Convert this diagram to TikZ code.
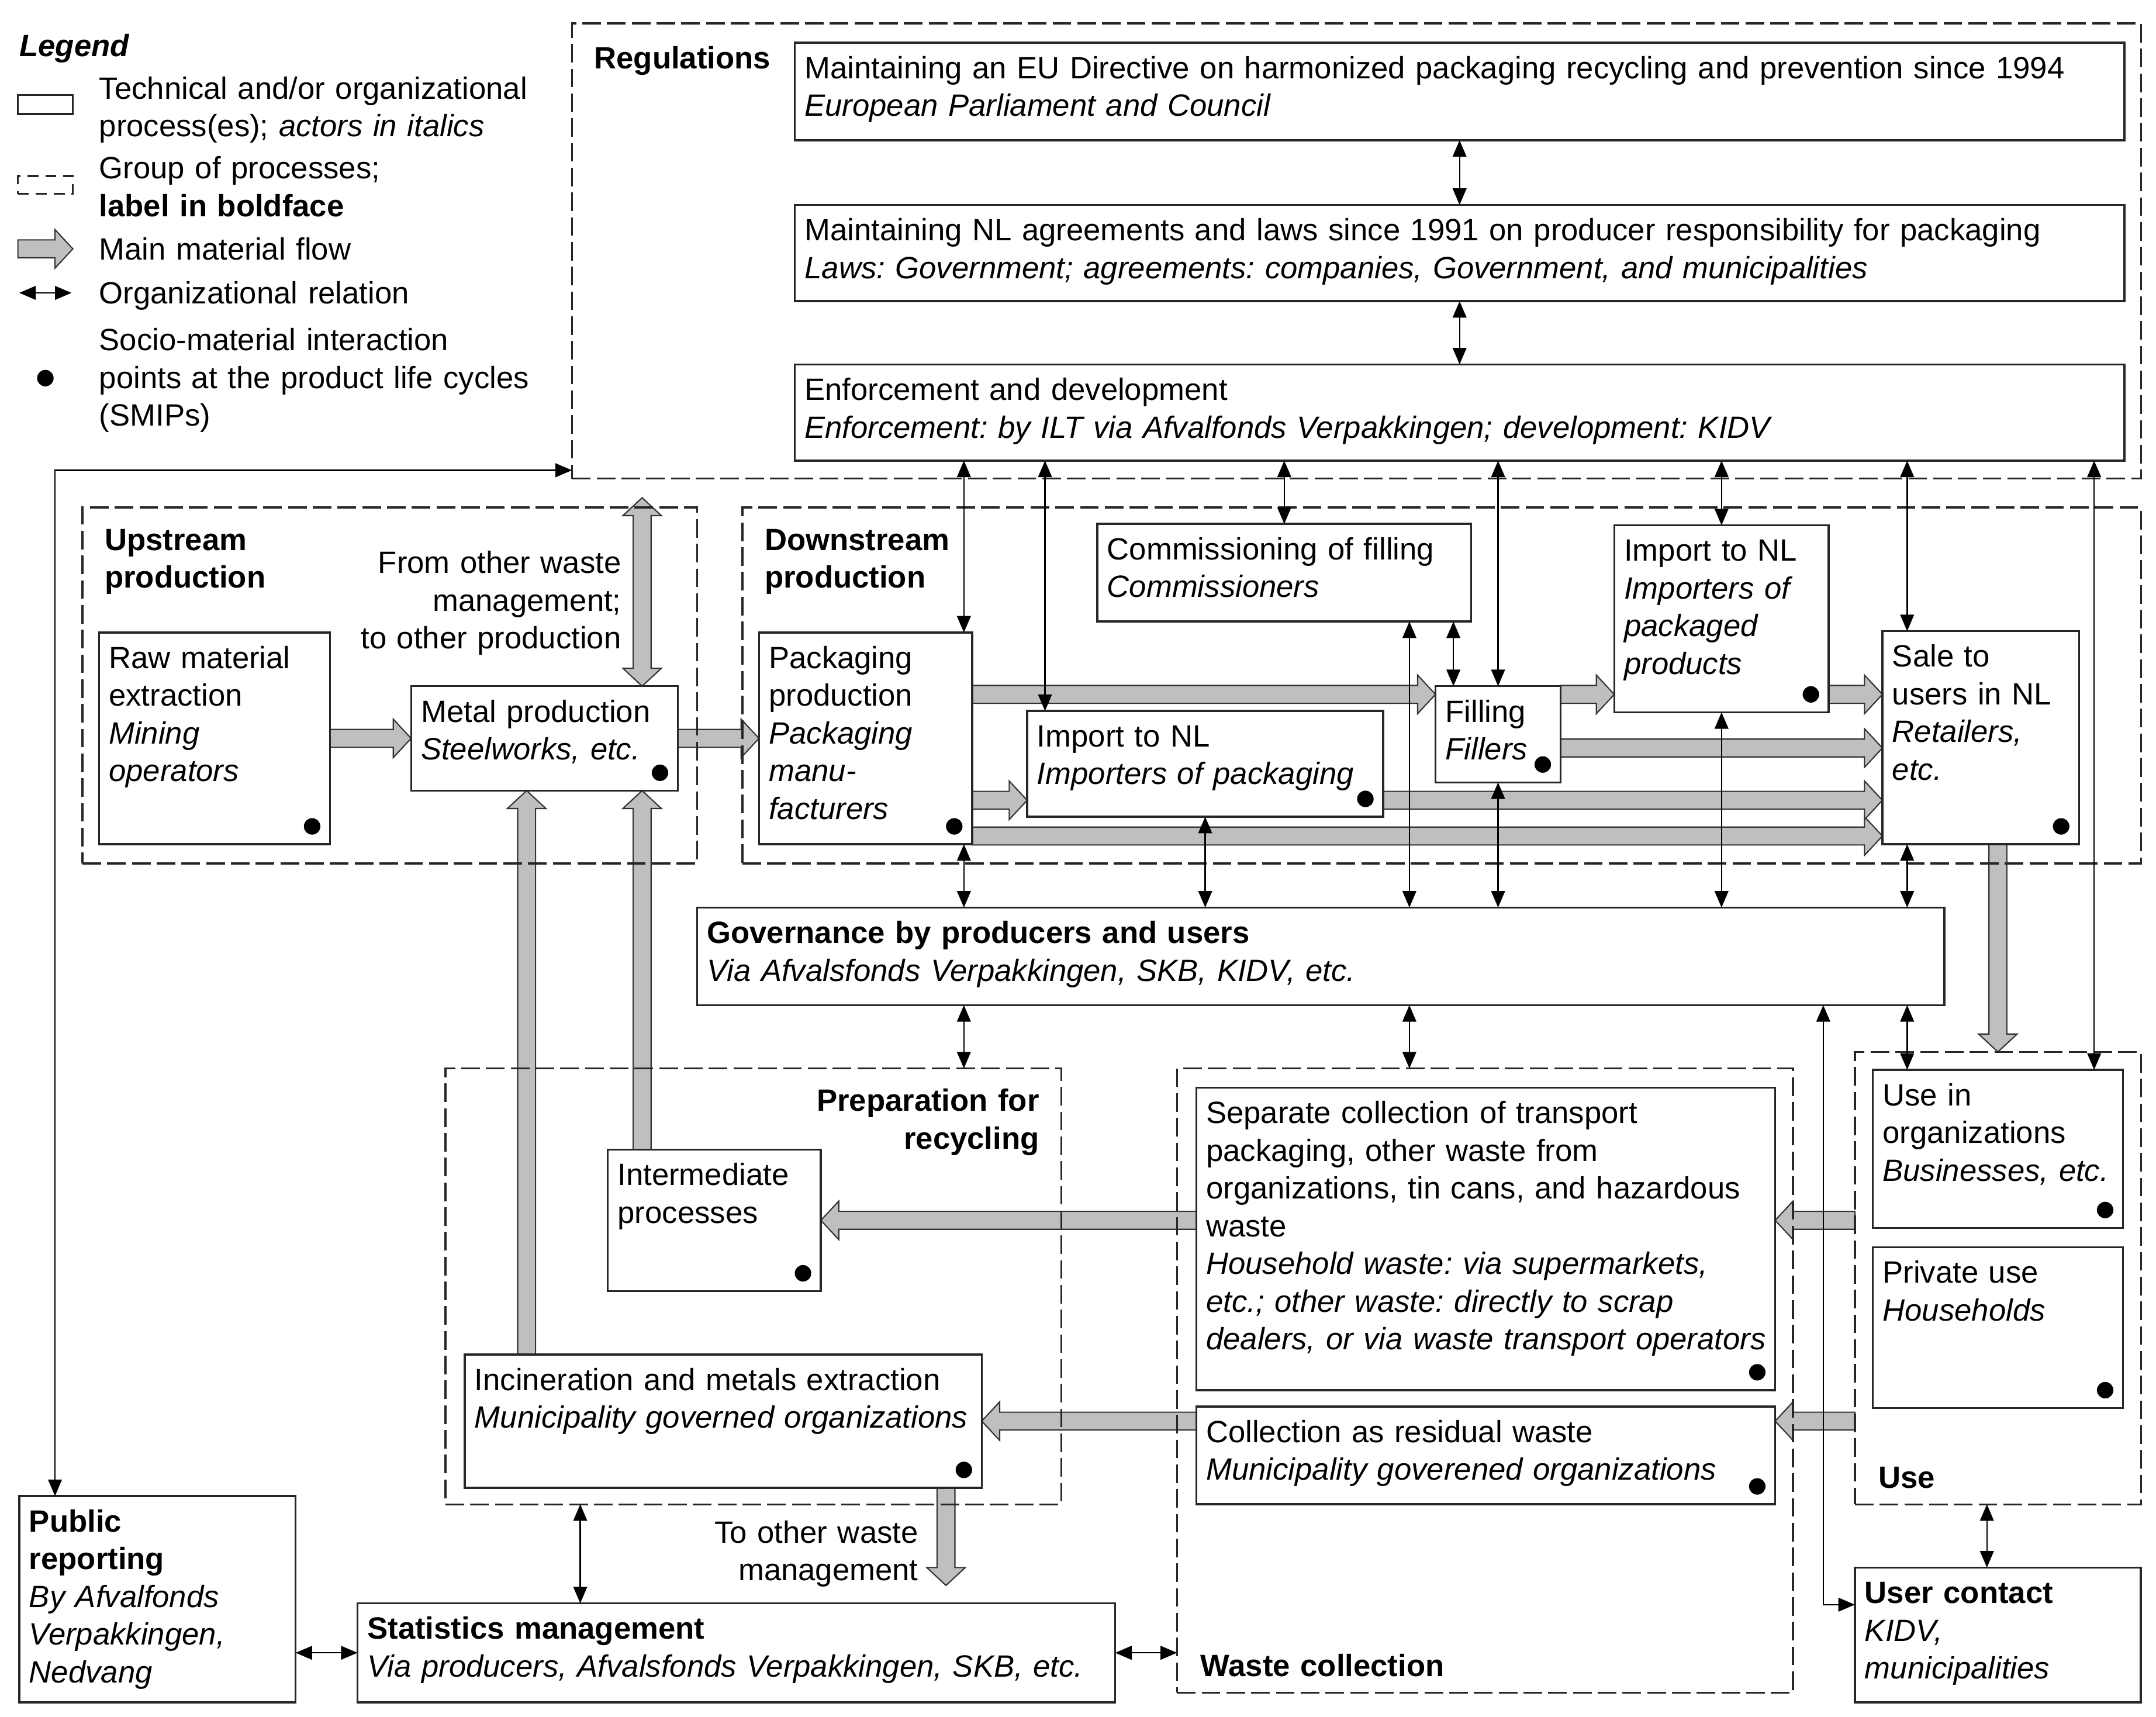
\documentclass[tikz,border=0pt]{standalone}
\usepackage{fontspec}
\setmainfont{Liberation Sans}
\usetikzlibrary{arrows.meta,calc}
\definecolor{flowgray}{gray}{0.75}
\pgfdeclarelayer{flows}
\pgfsetlayers{flows,main}
\frenchspacing
\tikzset{
  proc/.style={draw=black!85, line width=1.5pt, fill=white, anchor=north west, inner sep=0pt, outer sep=0pt},
  grp/.style={draw=black!85, line width=1.4pt, dash pattern=on 13.5pt off 4.5pt, anchor=north west, inner sep=0pt, outer sep=0pt},
  txt/.style={anchor=north west, align=left, text width=980pt, inner xsep=7pt, inner ysep=6.7pt, execute at begin node=\strut},
  txtr/.style={txt, anchor=north east, align=right},
  rel/.style={line width=1pt, <->, >={Triangle[length=12pt,width=10pt]}},
  smip/.style={fill=black},
  flow/.style={draw=black!80, fill=flowgray, line width=0.9pt,
    to path={(\tikztostart) coordinate (fs) (\tikztotarget) coordinate (fe)
      ($(fe)!13pt!(fs)$) coordinate (fb)
      ($(fs)!6.5pt!90:(fe)$) -- ($(fb)!6.5pt!90:(fe)$) -- ($(fb)!14pt!90:(fe)$) -- (fe)
      -- ($(fb)!14pt!-90:(fe)$) -- ($(fb)!6.5pt!-90:(fe)$) -- ($(fs)!6.5pt!-90:(fe)$) -- cycle}},
  flowtwo/.style={draw=black!80, fill=flowgray, line width=0.9pt,
    to path={(\tikztostart) coordinate (fs) (\tikztotarget) coordinate (fe)
      ($(fe)!13pt!(fs)$) coordinate (fb) ($(fs)!13pt!(fe)$) coordinate (fa)
      (fs) -- ($(fa)!14pt!90:(fe)$) -- ($(fa)!6.5pt!90:(fe)$) -- ($(fb)!6.5pt!90:(fe)$) -- ($(fb)!14pt!90:(fe)$) -- (fe)
      -- ($(fb)!14pt!-90:(fe)$) -- ($(fb)!6.5pt!-90:(fe)$) -- ($(fa)!6.5pt!-90:(fe)$) -- ($(fa)!14pt!-90:(fe)$) -- cycle}}
}
\begin{document}
\begin{tikzpicture}[x=1pt, y=-1pt, font=\fontsize{22.4}{27.4}\selectfont, line join=miter]
\useasboundingbox (0,0) rectangle (1568,1248.7);

\node[txt] (leg-t) at (7,15) {\textbf{\textit{Legend}}};
\node[proc, minimum width=40, minimum height=14] (legproc) at (13,69) {};
\node[txt] (legproc-t) at (65,46) {Technical and/or organizational\\process(es); \textit{actors in italics}};
\node[grp, dash pattern=on 8pt off 5pt, minimum width=40, minimum height=13] (leggrp) at (13,128) {};
\node[txt] (leggrp-t) at (65,104) {Group of processes;\\\textbf{label in boldface}};
\coordinate (legflow-a) at (13,181);
\coordinate (legflow-b) at (53,181);
\node[txt] (legflow-t) at (65,163) {Main material flow};
\coordinate (legrel-a) at (14,213);
\coordinate (legrel-b) at (52,213);
\node[txt] (legrel-t) at (65,195) {Organizational relation};
\coordinate (legsmip) at (33,275);
\node[txt] (legsmip-t) at (65,229) {Socio-material interaction\\points at the product life cycles\\(SMIPs)};

\node[grp, minimum width=1141, minimum height=331] (reg) at (416,17) {};
\node[grp, minimum width=447, minimum height=259] (up) at (60,369) {};
\node[grp, minimum width=1017, minimum height=259] (down) at (540,369) {};
\node[grp, minimum width=448, minimum height=317] (prep) at (324,777) {};
\node[grp, minimum width=448, minimum height=454] (waste) at (856,777) {};
\node[grp, minimum width=208, minimum height=329] (use) at (1349,765) {};
\node[txt] (reg-t) at (425,24) {\textbf{Regulations}};
\node[txt] (up-t) at (69,374) {\textbf{Upstream}\\\textbf{production}};
\node[txt] (down-t) at (549,374) {\textbf{Downstream}\\\textbf{production}};
\node[txtr] (prep-t) at (763,782) {\textbf{Preparation for}\\\textbf{recycling}};
\node[txt] (waste-t) at (866,1193) {\textbf{Waste collection}};
\node[txt] (use-t) at (1359,1056) {\textbf{Use}};
\node[txtr] (othprod-t) at (459,391) {From other waste\\management;\\to other production};
\node[txtr] (othwaste-t) at (675,1096) {To other waste\\management};

\node[proc, minimum width=967, minimum height=71] (eu) at (578,31) {};
\node[txt] (eu-t) at (eu.north west) {Maintaining an EU Directive on harmonized packaging recycling and prevention since 1994\\\textit{European Parliament and Council}};
\node[proc, minimum width=967, minimum height=70] (nl) at (578,149) {};
\node[txt] (nl-t) at (nl.north west) {Maintaining NL agreements and laws since 1991 on producer responsibility for packaging\\\textit{Laws: Government; agreements: companies, Government, and municipalities}};
\node[proc, minimum width=967, minimum height=70] (enf) at (578,265) {};
\node[txt] (enf-t) at (enf.north west) {Enforcement and development\\\textit{Enforcement: by ILT via Afvalfonds Verpakkingen; development: KIDV}};
\node[proc, minimum width=168, minimum height=154] (raw) at (72,460) {};
\node[txt] (raw-t) at (raw.north west) {Raw material\\extraction\\\textit{Mining}\\\textit{operators}};
\node[proc, minimum width=194, minimum height=76] (metal) at (299,499) {};
\node[txt] (metal-t) at (metal.north west) {Metal production\\\textit{Steelworks, etc.}};
\node[proc, minimum width=155, minimum height=154] (pack) at (552,460) {};
\node[txt] (pack-t) at (pack.north west) {Packaging\\production\\\textit{Packaging}\\\textit{manu-}\\\textit{facturers}};
\node[proc, minimum width=272, minimum height=71] (comm) at (798,381) {};
\node[txt] (comm-t) at (comm.north west) {Commissioning of filling\\\textit{Commissioners}};
\node[proc, minimum width=259, minimum height=77] (imppack) at (747,517) {};
\node[txt] (imppack-t) at (imppack.north west) {Import to NL\\\textit{Importers of packaging}};
\node[proc, minimum width=91, minimum height=70] (fill) at (1044,499) {};
\node[txt] (fill-t) at (fill.north west) {Filling\\\textit{Fillers}};
\node[proc, minimum width=156, minimum height=136] (impprod) at (1174,382) {};
\node[txt] (impprod-t) at (impprod.north west) {Import to NL\\\textit{Importers of}\\\textit{packaged}\\\textit{products}};
\node[proc, minimum width=143, minimum height=155] (sale) at (1369,459) {};
\node[txt] (sale-t) at (sale.north west) {Sale to\\users in NL\\\textit{Retailers,}\\\textit{etc.}};
\node[proc, minimum width=907, minimum height=71] (gov) at (507,660) {};
\node[txt] (gov-t) at (gov.north west) {\textbf{Governance by producers and users}\\\textit{Via Afvalsfonds Verpakkingen, SKB, KIDV, etc.}};
\node[proc, minimum width=155, minimum height=103] (inter) at (442,836) {};
\node[txt] (inter-t) at (inter.north west) {Intermediate\\processes};
\node[proc, minimum width=376, minimum height=97] (incin) at (338,985) {};
\node[txt] (incin-t) at (incin.north west) {Incineration and metals extraction\\\textit{Municipality governed organizations}};
\node[proc, minimum width=421, minimum height=220] (sep) at (870,791) {};
\node[txt] (sep-t) at (sep.north west) {Separate collection of transport\\packaging, other waste from\\organizations, tin cans, and hazardous\\waste\\\textit{Household waste: via supermarkets,}\\\textit{etc.; other waste: directly to scrap}\\\textit{dealers, or via waste transport operators}};
\node[proc, minimum width=421, minimum height=71] (resid) at (870,1023) {};
\node[txt] (resid-t) at (resid.north west) {Collection as residual waste\\\textit{Municipality goverened organizations}};
\node[proc, minimum width=182, minimum height=115] (useorg) at (1362,778) {};
\node[txt] (useorg-t) at (useorg.north west) {Use in\\organizations\\\textit{Businesses, etc.}};
\node[proc, minimum width=182, minimum height=117] (priv) at (1362,907) {};
\node[txt] (priv-t) at (priv.north west) {Private use\\\textit{Households}};
\node[proc, minimum width=201, minimum height=150] (pub) at (14,1088) {};
\node[txt] (pub-t) at (pub.north west) {\textbf{Public}\\\textbf{reporting}\\\textit{By Afvalfonds}\\\textit{Verpakkingen,}\\\textit{Nedvang}};
\node[proc, minimum width=551, minimum height=72] (stat) at (260,1166) {};
\node[txt] (stat-t) at (stat.north west) {\textbf{Statistics management}\\\textit{Via producers, Afvalsfonds Verpakkingen, SKB, etc.}};
\node[proc, minimum width=208, minimum height=98] (contact) at (1349,1140) {};
\node[txt] (contact-t) at (contact.north west) {\textbf{User contact}\\\textit{KIDV,}\\\textit{municipalities}};

\coordinate (othprod) at (467,362);
\coordinate (othwaste) at (688,1153);
\begin{pgfonlayer}{flows}
\draw[flow] (legflow-a) to (legflow-b);
\draw[flow] (raw.east) to (metal.west);
\draw[flow] (metal.east) to (pack.west);
\draw[flow] (pack.east |- 0,505) to (fill.west |- 0,505);
\draw[flow] (pack.east |- 0,582) to (imppack.west |- 0,582);
\draw[flow] (pack.east |- 0,608) to (sale.west |- 0,608);
\draw[flow] (imppack.east |- 0,582) to (sale.west |- 0,582);
\draw[flow] (fill.east |- 0,505) to (impprod.west |- 0,505);
\draw[flow] (fill.east |- 0,544) to (sale.west |- 0,544);
\draw[flow] (impprod.east |- 0,505) to (sale.west |- 0,505);
\draw[flow] (sale.south -| 1453,0) to (use.north -| 1453,0);
\draw[flowtwo] (othprod) to (metal.north -| othprod);
\draw[flow] (inter.north -| 467,0) to (metal.south -| 467,0);
\draw[flow] (incin.north -| 383,0) to (metal.south -| 383,0);
\draw[flow] (incin.south -| othwaste) to (othwaste);
\draw[flow] (sep.west |- inter.east) to (inter.east);
\draw[flow] (resid.west |- incin.east) to (incin.east);
\draw[flow] (use.west |- inter.east) to (sep.east |- inter.east);
\draw[flow] (use.west |- incin.east) to (resid.east |- incin.east);
\end{pgfonlayer}

\draw[rel] (legrel-a) -- (legrel-b);
\draw[rel] (eu.south) -- (nl.north);
\draw[rel] (nl.south) -- (enf.north);
\draw[rel] (enf.south -| 701,0) -- (pack.north -| 701,0);
\draw[rel] (enf.south -| 760,0) -- (imppack.north -| 760,0);
\draw[rel] (enf.south -| comm.north) -- (comm.north);
\draw[rel] (enf.south -| fill.north) -- (fill.north);
\draw[rel] (enf.south -| impprod.north) -- (impprod.north);
\draw[rel] (enf.south -| 1387,0) -- (sale.north -| 1387,0);
\draw[rel] (enf.south -| 1523,0) -- (useorg.north -| 1523,0);
\draw[rel] (gov.north -| 701,0) -- (pack.south -| 701,0);
\draw[rel] (gov.north -| imppack.south) -- (imppack.south);
\draw[rel] (gov.north -| 1025,0) -- (comm.south -| 1025,0);
\draw[rel] (gov.north -| fill.south) -- (fill.south);
\draw[rel] (gov.north -| impprod.south) -- (impprod.south);
\draw[rel] (gov.north -| 1387,0) -- (sale.south -| 1387,0);
\draw[rel] (comm.south -| 1057,0) -- (fill.north -| 1057,0);
\draw[rel] (gov.south -| 701,0) -- (prep.north -| 701,0);
\draw[rel] (gov.south -| 1025,0) -- (waste.north -| 1025,0);
\draw[rel] (gov.south -| 1387,0) -- (useorg.north -| 1387,0);
\draw[rel] (gov.south -| 1326,0) |- (contact.west |- 0,1167);
\draw[rel] (reg.west |- 0,342) -| (pub.north -| 40,0);
\draw[rel] (pub.east |- stat.west) -- (stat.west);
\draw[rel] (stat.east) -- (waste.west |- stat.east);
\draw[rel] (prep.south -| 422,0) -- (stat.north -| 422,0);
\draw[rel] (use.south -| 1445,0) -- (contact.north -| 1445,0);

\fill[smip] (legsmip) circle (6pt);
\foreach \b in {raw,metal,pack,imppack,fill,impprod,sale,inter,incin,sep,resid,useorg,priv}
  \fill[smip] ($(\b.south east)+(-13,-13)$) circle (6pt);
\end{tikzpicture}
\end{document}
